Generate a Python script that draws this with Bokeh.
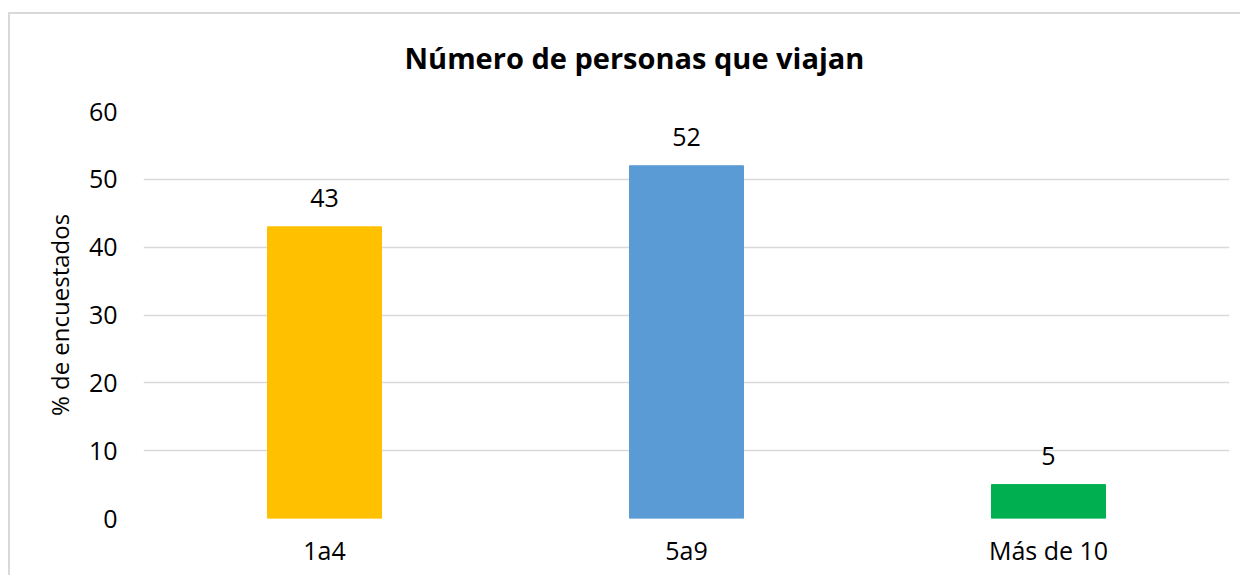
from bokeh.plotting import figure
from bokeh.models import ColumnDataSource, LabelSet, Title, FixedTicker
from bokeh.core.properties import value
from bokeh.embed import file_html
from bokeh.resources import INLINE

categories = ["1a4", "5a9", "Más de 10"]
values = [43, 52, 5]
colors = ["#FFC000", "#5B9BD5", "#00B050"]
y_ticks = [0, 10, 20, 30, 40, 50, 60]
title_text = "Número de personas que viajan"
y_label = "% de encuestados"

FONT = "Open Sans"
FS = "25px"

src = ColumnDataSource(dict(cat=categories, val=values, color=colors,
                            txt=[str(v) for v in values]))

p = figure(x_range=categories, y_range=(0, 60), width=1240, height=575,
           output_backend="svg", toolbar_location=None,
           min_border_left=143, min_border_right=11, min_border_top=111,
           min_border_bottom=57)
p.styles = {"background": "linear-gradient(#d9d9d9, #d9d9d9) 9px 12px / 100% 2px no-repeat, "
                          "linear-gradient(#d9d9d9, #d9d9d9) 8px 12px / 2px 100% no-repeat, "
                          "#ffffff"}
p.x_range.range_padding = 0
p.outline_line_color = None
p.background_fill_color = "white"
p.border_fill_color = None

p.vbar(x="cat", top="val", width=0.315, color="color", source=src)

labels = LabelSet(x="cat", y="val", text="txt", source=src, y_offset=20,
                  text_align="center", text_baseline="bottom",
                  text_font=value(FONT), text_font_size=FS, text_color="#000000")
p.add_layout(labels)

p.add_layout(Title(text=title_text, align="left", offset=261, standoff=70,
                   text_font=FONT, text_font_size="29px", text_font_style="bold",
                   text_color="#000000"), "above")

p.xgrid.grid_line_color = None
p.ygrid.grid_line_color = "#d9d9d9"
p.ygrid.grid_line_width = 1.5
p.yaxis.ticker = FixedTicker(ticks=y_ticks)

for ax in (p.xaxis, p.yaxis):
    ax.axis_line_color = None
    ax.major_tick_line_color = None
    ax.minor_tick_line_color = None
    ax.major_label_text_font = FONT
    ax.major_label_text_font_size = FS
    ax.major_label_text_color = "#000000"

p.yaxis.major_label_standoff = 20
p.xaxis.major_label_standoff = 8
p.yaxis.axis_label = y_label
p.yaxis.axis_label_text_font = FONT
p.yaxis.axis_label_text_font_size = "24px"
p.yaxis.axis_label_text_font_style = "normal"
p.yaxis.axis_label_text_color = "#000000"
p.yaxis.axis_label_standoff = 10

open("out.html", "w").write(file_html(p, INLINE))
